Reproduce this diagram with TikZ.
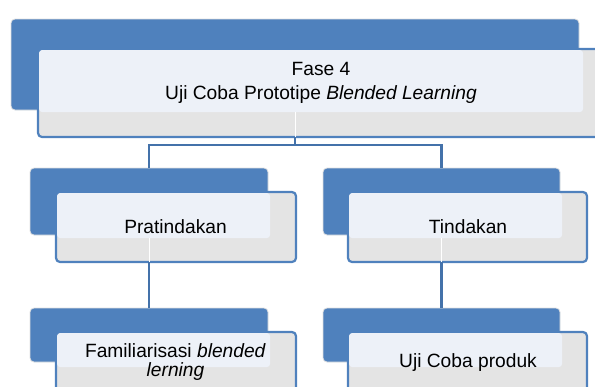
\documentclass[tikz,border=0pt]{standalone}
\usepackage{fontspec}
\setmainfont{Liberation Sans}
\usetikzlibrary{calc}
\definecolor{accent}{HTML}{4F81BD}
\definecolor{accentdark}{HTML}{4472AA}
\definecolor{panel}{HTML}{E4E4E4}
\definecolor{panellight}{HTML}{EDF1F8}
\tikzset{
  backbox/.style={rectangle, rounded corners=4pt, fill=accent, draw=black!12,
    line width=0.8pt, inner sep=0pt, outer sep=0pt, anchor=north west},
  frontbox/.style={rectangle, rounded corners=4pt, fill=panel, draw=accent,
    line width=2.2pt, inner sep=0pt, outer sep=0pt, anchor=north west},
  shine/.style={rectangle, rounded corners=3pt, fill=panellight,
    inner sep=0pt, outer sep=0pt, anchor=north west},
  % base anchor sits on the baseline of the last line
  boxtext/.style={inner sep=0pt, align=center, anchor=base,
    font=\fontsize{19.2}{24}\selectfont},
  link/.style={draw=accentdark, line width=2.6pt},
  seam/.style={draw=white, line width=0.9pt},
}
\begin{document}
\begin{tikzpicture}[x=1pt, y=-1pt]
  \useasboundingbox (0,0) rectangle (595,386);
  \clip (0,0) rectangle (595,386);

  % top level: phase 4
  \node[backbox, minimum width=568pt, minimum height=91pt] (tb) at (11,19) {};
  \node[frontbox, minimum width=600pt, minimum height=88pt] (tf) at (38,49) {};
  \node[shine, minimum width=543.9pt, minimum height=61.9pt] (ts) at (39.1,50.1) {};
  \draw[seam] (ts.south -| tb.south) -- (tf.south -| tb.south);
  \node[boxtext] (tt) at (321,99) {Fase 4\\Uji Coba Prototipe \textit{Blended Learning}};

  % second level, left: pre-action
  \node[backbox, minimum width=238pt, minimum height=67pt] (lb) at (30,168) {};
  \node[frontbox, minimum width=240pt, minimum height=70pt] (lf) at (56,192) {};
  \node[shine, minimum width=212.9pt, minimum height=44.9pt] (ls) at (57.1,193.1) {};
  \draw[seam] (ls.south -| lb.south) -- (lf.south -| lb.south);
  \node[boxtext] (lt) at (175.5,233) {Pratindakan};

  % second level, right: action
  \node[backbox, minimum width=237pt, minimum height=67pt] (rb) at (323,168) {};
  \node[frontbox, minimum width=239pt, minimum height=70pt] (rf) at (348,192) {};
  \node[shine, minimum width=212.9pt, minimum height=44.9pt] (rs) at (349.1,193.1) {};
  \draw[seam] (rs.south -| rb.south) -- (rf.south -| rb.south);
  \node[boxtext] (rt) at (468,233.5) {Tindakan};

  % third level, left
  \node[backbox, minimum width=238pt, minimum height=54pt] (llb) at (30,308) {};
  \node[frontbox, minimum width=240pt, minimum height=80pt] (llf) at (56,332) {};
  \node[shine, minimum width=212.9pt, minimum height=33.9pt] (lls) at (57.1,333.1) {};
  \node[boxtext, font=\fontsize{19.2}{19}\selectfont] (llt) at (175.5,376)
    {Familiarisasi \textit{blended}\\\textit{lerning}};

  % third level, right
  \node[backbox, minimum width=237pt, minimum height=54pt] (rrb) at (323,308) {};
  \node[frontbox, minimum width=239pt, minimum height=80pt] (rrf) at (348,332) {};
  \node[shine, minimum width=212.9pt, minimum height=33.9pt] (rrs) at (349.1,333.1) {};
  \node[boxtext] (rrt) at (468,367) {Uji Coba produk};

  % connectors
  \coordinate (fork) at ($(tf.south -| tb.south)+(0,8)$);
  \draw[link] (tf.south -| tb.south) -- (fork) -| (lb.north);
  \draw[link] (fork) -| (rb.north);
  \draw[link] (lf.south -| lb.south) -- (llb.north);
  \draw[link] (rf.south -| rb.south) -- (rrb.north);
\end{tikzpicture}
\end{document}
